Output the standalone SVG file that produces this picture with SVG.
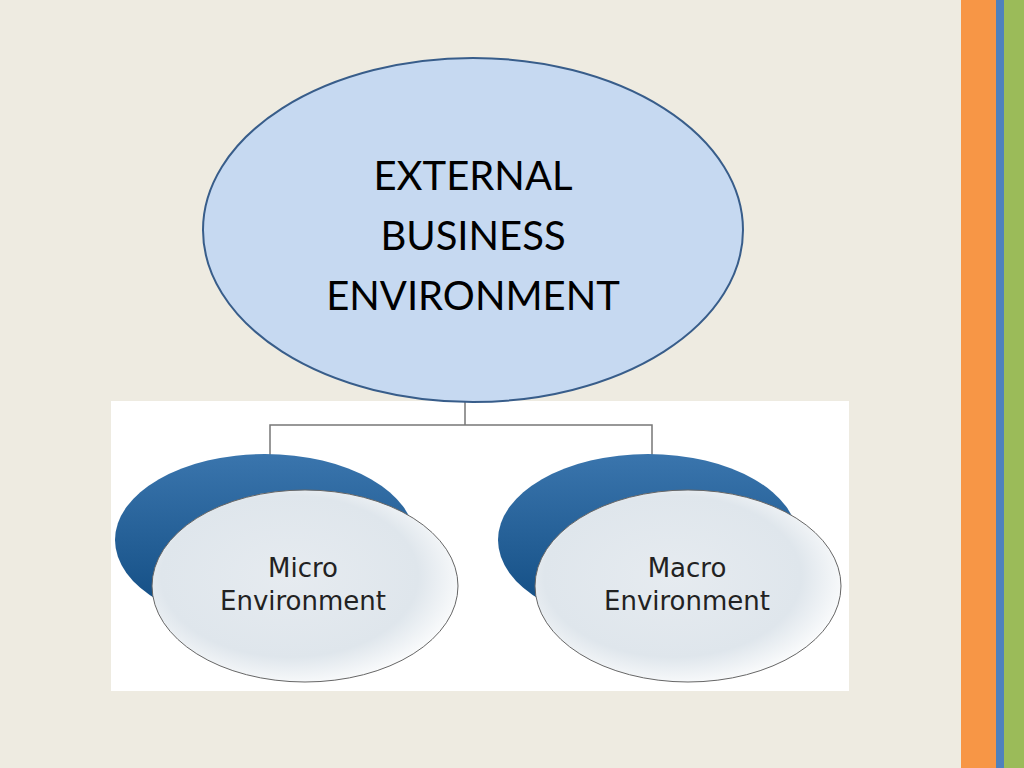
<svg xmlns="http://www.w3.org/2000/svg" width="1024" height="768" viewBox="0 0 1024 768">
<defs>
<linearGradient id="dk" x1="0" y1="0" x2="0" y2="1"><stop offset="0" stop-color="#3a75ad"/><stop offset="1" stop-color="#0f4a80"/></linearGradient>
<radialGradient id="lt" cx="0.45" cy="0.45" r="0.6"><stop offset="0" stop-color="#e6ebf0"/><stop offset="0.7" stop-color="#dfe6ec"/><stop offset="1" stop-color="#ffffff"/></radialGradient>
<style>
.sub{font-family:"DejaVu Sans",sans-serif;font-size:26px;fill:#222;text-anchor:middle}
.main{font-family:Lato,"Open Sans",sans-serif;font-size:40px;fill:#000;text-anchor:middle}
.ln{stroke:#777;stroke-width:1.5;fill:none}
</style>
</defs>
<rect width="1024" height="768" fill="#eeebe1"/>
<rect x="961" y="0" width="35" height="768" fill="#f79646"/>
<rect x="996" y="0" width="8" height="768" fill="#4f81bd"/>
<rect x="1004" y="0" width="20" height="768" fill="#9bbb59"/>
<rect x="111" y="401" width="738" height="290" fill="#ffffff"/>
<g id="connectors">
<path class="ln" d="M465 401 V425 M270 455 V425 H652 V455"/>
</g>
<g id="micro">
<ellipse cx="265" cy="540" rx="150" ry="86" fill="url(#dk)"/>
<ellipse cx="305" cy="586" rx="153" ry="96" fill="url(#lt)" stroke="#666" stroke-width="1"/>
<text class="sub" x="303" y="577">Micro</text>
<text class="sub" x="303" y="610">Environment</text>
</g>
<g id="macro">
<ellipse cx="648" cy="540" rx="150" ry="86" fill="url(#dk)"/>
<ellipse cx="688" cy="586" rx="153" ry="96" fill="url(#lt)" stroke="#666" stroke-width="1"/>
<text class="sub" x="687" y="577">Macro</text>
<text class="sub" x="687" y="610">Environment</text>
</g>
<g id="external">
<ellipse cx="473" cy="230" rx="270" ry="172" fill="#c6d9f1" stroke="#385d8a" stroke-width="2"/>
<text class="main" x="473" y="190">EXTERNAL</text>
<text class="main" x="473" y="250">BUSINESS</text>
<text class="main" x="473" y="310">ENVIRONMENT</text>
</g>
</svg>
